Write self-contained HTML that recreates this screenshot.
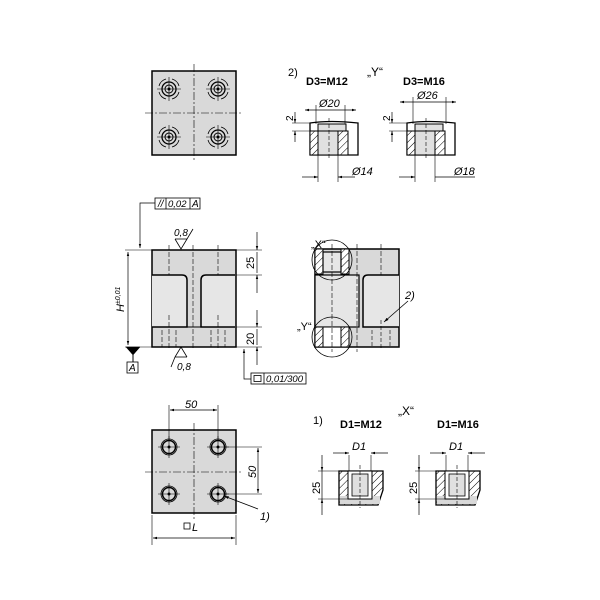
<!DOCTYPE html>
<html><head><style>html,body{margin:0;padding:0;background:#fff}svg{display:block}</style></head><body>
<svg width="600" height="600" viewBox="0 0 600 600" xmlns="http://www.w3.org/2000/svg" font-family="Liberation Sans, sans-serif">
<defs>
<marker id="a" viewBox="0 0 10 10" refX="10" refY="5" markerWidth="6" markerHeight="6" orient="auto-start-reverse"><path d="M0,2 L10,5 L0,8z" fill="#000"/></marker>
<pattern id="h" width="5" height="5" patternUnits="userSpaceOnUse" patternTransform="rotate(45)"><rect width="5" height="5" fill="#fff"/><line x1="0" y1="0" x2="0" y2="5" stroke="#000" stroke-width="1"/></pattern>
<g id="hole"><circle r="7" fill="none" stroke="#000" stroke-width="1.3"/><circle r="4" fill="none" stroke="#000" stroke-width="1"/><path d="M-10,-3 A10,10 0 0 1 -3,-10 M3,-10 A10,10 0 0 1 10,-3 M10,3 A10,10 0 0 1 3,10 M-3,10 A10,10 0 0 1 -10,3" fill="none" stroke="#000" stroke-width="0.8"/><line x1="-12" y1="0" x2="12" y2="0" stroke="#000" stroke-width="0.6"/><line x1="0" y1="-12" x2="0" y2="12" stroke="#000" stroke-width="0.6"/><circle r="1" fill="#000"/></g>
<g id="hole2"><circle r="8" fill="none" stroke="#000" stroke-width="0.8"/><circle r="6.5" fill="none" stroke="#000" stroke-width="1.5"/><line x1="-11" y1="0" x2="11" y2="0" stroke="#000" stroke-width="0.6"/><line x1="0" y1="-11" x2="0" y2="11" stroke="#000" stroke-width="0.6"/><circle r="1" fill="#000"/></g>
</defs>
<g stroke="#000" fill="none">
<!-- top-left square -->
<rect x="152" y="71" width="84" height="84" fill="#d9d9d9" stroke-width="1.5"/>
<line x1="194" y1="64" x2="194" y2="162" stroke-width="0.6" stroke-dasharray="8,2,2,2"/>
<line x1="145" y1="113" x2="243" y2="113" stroke-width="0.6" stroke-dasharray="8,2,2,2"/>
<use href="#hole" x="169" y="89"/><use href="#hole" x="218" y="89"/><use href="#hole" x="169" y="137"/><use href="#hole" x="218" y="137"/>

<!-- front view -->
<rect x="152" y="250" width="84" height="97" fill="#d9d9d9" stroke-width="1.5"/>
<path d="M152,275 H182 Q187,275 187,280 V327 H152" fill="#e6e6e6" stroke-width="1.5"/>
<path d="M235,275 H206 Q201,275 201,280 V327 H235" fill="#e6e6e6" stroke-width="1.5"/>
<line x1="152" y1="327" x2="235" y2="327" stroke-width="1"/>
<g stroke-width="0.6" stroke-dasharray="5,2">
<line x1="169" y1="245" x2="169" y2="275"/><line x1="218" y1="245" x2="218" y2="275"/>
<line x1="193" y1="245" x2="193" y2="350"/>
<line x1="162" y1="330" x2="162" y2="347"/><line x1="169" y1="315" x2="169" y2="350"/><line x1="176" y1="330" x2="176" y2="347"/>
<line x1="211" y1="330" x2="211" y2="347"/><line x1="218" y1="315" x2="218" y2="350"/><line x1="225" y1="330" x2="225" y2="347"/>
</g>
<line x1="125" y1="250" x2="152" y2="250" stroke-width="0.6"/>
<line x1="125" y1="347" x2="152" y2="347" stroke-width="0.6"/>
<line x1="128" y1="252" x2="128" y2="345" stroke-width="0.7" marker-start="url(#a)" marker-end="url(#a)"/>
<line x1="236" y1="250" x2="262" y2="250" stroke-width="0.6"/>
<line x1="236" y1="275" x2="262" y2="275" stroke-width="0.6"/>
<line x1="236" y1="327" x2="262" y2="327" stroke-width="0.6"/>
<line x1="236" y1="347" x2="262" y2="347" stroke-width="0.6"/>
<line x1="257" y1="232" x2="257" y2="250" stroke-width="0.7" marker-end="url(#a)"/>
<line x1="257" y1="293" x2="257" y2="275" stroke-width="0.7" marker-end="url(#a)"/>
<line x1="257" y1="252" x2="257" y2="273" stroke-width="0.7"/>
<line x1="257" y1="310" x2="257" y2="327" stroke-width="0.7" marker-end="url(#a)"/>
<line x1="257" y1="365" x2="257" y2="347" stroke-width="0.7" marker-end="url(#a)"/>
<line x1="257" y1="329" x2="257" y2="345" stroke-width="0.7"/>
<!-- tolerance top -->
<path d="M140,248 V203 H155" stroke-width="0.7" marker-start="url(#a)"/>
<rect x="155" y="198" width="45" height="11" fill="#fff" stroke-width="0.8"/>
<line x1="166" y1="198" x2="166" y2="209" stroke-width="0.8"/><line x1="190" y1="198" x2="190" y2="209" stroke-width="0.8"/>
<!-- surface symbols -->
<path d="M175,239 L181,249 L187,239 M187,239 L193,229" stroke-width="0.8"/>
<line x1="175" y1="239" x2="187" y2="239" stroke-width="0.8"/>
<path d="M175,357 L181,347 L187,357 M175,357 L171,367" stroke-width="0.8"/>
<line x1="175" y1="357" x2="187" y2="357" stroke-width="0.8"/>
<path d="M126,347 L140,347 L133,355 z" fill="#000" stroke-width="0.5"/>
<line x1="133" y1="355" x2="133" y2="362"/>
<rect x="127" y="362" width="11" height="11" fill="#fff" stroke-width="0.8"/>
<path d="M244,349 V379 H251" stroke-width="0.7" marker-start="url(#a)"/>
<rect x="251" y="373" width="55" height="11" fill="#fff" stroke-width="0.8"/>
<line x1="264" y1="373" x2="264" y2="384" stroke-width="0.8"/>
<rect x="254" y="375.5" width="7" height="6" stroke-width="0.8"/>

<!-- side view -->
<rect x="315" y="249" width="84" height="98" fill="#d9d9d9" stroke-width="1.5"/>
<path d="M399,275 H368 Q363,275 363,280 V327 H399" fill="#e6e6e6" stroke-width="1.5"/>
<rect x="315" y="275" width="44" height="52" fill="#e6e6e6" stroke-width="1.2"/>
<line x1="357" y1="244" x2="357" y2="352" stroke-width="0.6" stroke-dasharray="5,2"/>
<line x1="381" y1="244" x2="381" y2="275" stroke-width="0.6" stroke-dasharray="5,2"/>
<line x1="372" y1="330" x2="372" y2="347" stroke-width="0.6" stroke-dasharray="4,2"/><line x1="381" y1="320" x2="381" y2="350" stroke-width="0.6" stroke-dasharray="4,2"/><line x1="390" y1="330" x2="390" y2="347" stroke-width="0.6" stroke-dasharray="4,2"/>
<rect x="315" y="249" width="8" height="25" fill="url(#h)" stroke-width="1"/>
<rect x="341" y="249" width="8" height="25" fill="url(#h)" stroke-width="1"/>
<rect x="323" y="252" width="18" height="20" fill="#e6e6e6" stroke-width="1.2"/>
<rect x="315" y="327" width="8" height="20" fill="url(#h)" stroke-width="1"/>
<rect x="341" y="327" width="8" height="20" fill="url(#h)" stroke-width="1"/>
<rect x="323" y="327" width="18" height="20" fill="#fff" stroke-width="1"/>
<line x1="332" y1="244" x2="332" y2="352" stroke-width="0.6" stroke-dasharray="5,2"/>
<circle cx="332" cy="260" r="20" stroke-width="0.8"/>
<circle cx="332" cy="337" r="20" stroke-width="0.8"/>
<line x1="408" y1="301" x2="384" y2="322" stroke-width="0.8" marker-end="url(#a)"/>

<!-- bottom-left square -->
<rect x="152" y="430" width="84" height="83" fill="#d9d9d9" stroke-width="1.5"/>
<line x1="194" y1="423" x2="194" y2="520" stroke-width="0.6" stroke-dasharray="8,2,2,2"/>
<line x1="145" y1="472" x2="243" y2="472" stroke-width="0.6" stroke-dasharray="8,2,2,2"/>
<use href="#hole2" x="169" y="447"/><use href="#hole2" x="218" y="447"/><use href="#hole2" x="169" y="494"/><use href="#hole2" x="218" y="494"/>
<line x1="169" y1="405" x2="169" y2="440" stroke-width="0.6"/><line x1="218" y1="405" x2="218" y2="440" stroke-width="0.6"/>
<line x1="170" y1="410" x2="217" y2="410" stroke-width="0.7" marker-start="url(#a)" marker-end="url(#a)"/>
<line x1="225" y1="447" x2="262" y2="447" stroke-width="0.6"/><line x1="225" y1="494" x2="262" y2="494" stroke-width="0.6"/>
<line x1="258" y1="448" x2="258" y2="493" stroke-width="0.7" marker-start="url(#a)" marker-end="url(#a)"/>
<line x1="152" y1="515" x2="152" y2="545" stroke-width="0.6"/><line x1="236" y1="515" x2="236" y2="545" stroke-width="0.6"/>
<line x1="153" y1="538" x2="235" y2="538" stroke-width="0.7" marker-start="url(#a)" marker-end="url(#a)"/>
<line x1="258" y1="509" x2="224" y2="496" stroke-width="0.8" marker-end="url(#a)"/>
<rect x="184" y="523" width="6" height="6" stroke-width="0.8"/>

<!-- Y details -->
<g id="y1">
<path d="M310,123 Q330,120 358,123 V155 H310 Z" fill="#fff" stroke-width="1.3"/>
<rect x="310" y="131" width="8" height="24" fill="url(#h)" stroke-width="1"/>
<rect x="338" y="131" width="10" height="24" fill="url(#h)" stroke-width="1"/>
<rect x="318" y="124" width="28" height="7" fill="#e0e0e0" stroke-width="1"/>
<rect x="318" y="131" width="20" height="24" fill="#e0e0e0" stroke-width="1"/>
<line x1="329" y1="118" x2="329" y2="160" stroke-width="0.6" stroke-dasharray="4,2"/>
</g>
<line x1="316" y1="105" x2="316" y2="124" stroke-width="0.6"/><line x1="345" y1="105" x2="345" y2="124" stroke-width="0.6"/>
<line x1="305" y1="110" x2="356" y2="110" stroke-width="0.7" marker-start="url(#a)" marker-end="url(#a)"/>
<line x1="318" y1="155" x2="318" y2="182" stroke-width="0.6"/><line x1="338" y1="155" x2="338" y2="182" stroke-width="0.6"/>
<line x1="302" y1="177" x2="318" y2="177" stroke-width="0.7" marker-end="url(#a)"/><line x1="355" y1="177" x2="338" y2="177" stroke-width="0.7" marker-end="url(#a)"/>
<line x1="292" y1="123" x2="310" y2="123" stroke-width="0.6"/><line x1="292" y1="131" x2="310" y2="131" stroke-width="0.6"/>
<line x1="295" y1="112" x2="295" y2="123" stroke-width="0.7" marker-end="url(#a)"/><line x1="295" y1="142" x2="295" y2="131" stroke-width="0.7" marker-end="url(#a)"/>
<use href="#y1" x="97"/>
<line x1="413" y1="97" x2="413" y2="124" stroke-width="0.6"/><line x1="446" y1="97" x2="446" y2="124" stroke-width="0.6"/>
<line x1="400" y1="102" x2="456" y2="102" stroke-width="0.7" marker-start="url(#a)" marker-end="url(#a)"/>
<line x1="415" y1="155" x2="415" y2="182" stroke-width="0.6"/><line x1="435" y1="155" x2="435" y2="182" stroke-width="0.6"/>
<line x1="399" y1="177" x2="415" y2="177" stroke-width="0.7" marker-end="url(#a)"/><line x1="475" y1="177" x2="435" y2="177" stroke-width="0.7"/>
<line x1="389" y1="123" x2="407" y2="123" stroke-width="0.6"/><line x1="389" y1="131" x2="407" y2="131" stroke-width="0.6"/>
<line x1="392" y1="112" x2="392" y2="123" stroke-width="0.7" marker-end="url(#a)"/><line x1="392" y1="142" x2="392" y2="131" stroke-width="0.7" marker-end="url(#a)"/>

<!-- X details -->
<g id="x1">
<path d="M339,471 H383 V490 L378,505 H339 Z" fill="url(#h)" stroke-width="1.3"/>
<rect x="340" y="496" width="40" height="8" fill="#d9d9d9" stroke="none"/>
<rect x="348" y="471" width="24" height="28" fill="#fff" stroke-width="1"/>
<rect x="352" y="474" width="16" height="22" fill="#e0e0e0" stroke-width="0.8"/>
<line x1="360" y1="465" x2="360" y2="508" stroke-width="0.6" stroke-dasharray="4,2"/>
<line x1="349" y1="455" x2="349" y2="471" stroke-width="0.6"/><line x1="371" y1="455" x2="371" y2="471" stroke-width="0.6"/>
<line x1="333" y1="453" x2="349" y2="453" stroke-width="0.7" marker-end="url(#a)"/><line x1="388" y1="453" x2="371" y2="453" stroke-width="0.7" marker-end="url(#a)"/>
<line x1="318" y1="471" x2="339" y2="471" stroke-width="0.6"/><line x1="318" y1="499" x2="348" y2="499" stroke-width="0.6"/>
<line x1="322" y1="455" x2="322" y2="471" stroke-width="0.7" marker-end="url(#a)"/><line x1="322" y1="515" x2="322" y2="499" stroke-width="0.7" marker-end="url(#a)"/>
<line x1="322" y1="471" x2="322" y2="499" stroke-width="0.7"/>
</g>
<use href="#x1" x="97"/>
</g>
<g font-size="10" fill="#000">
<text x="158" y="207" font-style="italic">//</text><text x="168" y="207" font-style="italic" font-size="9.5">0,02</text><text x="192" y="207" font-style="italic">A</text>
<text x="174" y="236" font-style="italic">0,8</text>
<text x="177" y="370" font-style="italic">0,8</text>
<text x="129" y="371" font-style="italic">A</text>
<text x="266" y="382" font-style="italic" font-size="9.5">0,01/300</text>
<text transform="translate(124,312) rotate(-90)" font-style="italic" font-size="11">H<tspan font-size="7" dy="-4">±0,01</tspan></text>
<text transform="translate(254,269) rotate(-90)" font-size="11">25</text>
<text transform="translate(254,345) rotate(-90)" font-size="11">20</text>
<text x="311" y="248" font-size="11">„X“</text>
<text x="297" y="330" font-size="11">„Y“</text>
<text x="405" y="299" font-style="italic" font-size="11">2)</text>
<text x="185" y="408" font-style="italic" font-size="11">50</text>
<text transform="translate(256,478) rotate(-90)" font-style="italic" font-size="11">50</text>
<text x="192" y="531" font-style="italic" font-size="11">L</text>
<text x="260" y="520" font-style="italic" font-size="11">1)</text>
<text x="288" y="76" font-size="11">2)</text>
<text x="306" y="85" font-weight="bold" font-size="11">D3=M12</text>
<text x="367" y="76" font-size="12">„Y“</text>
<text x="403" y="85" font-weight="bold" font-size="11">D3=M16</text>
<text x="319" y="107" font-style="italic" font-size="11">Ø20</text>
<text x="417" y="99" font-style="italic" font-size="11">Ø26</text>
<text x="352" y="175" font-style="italic" font-size="11">Ø14</text>
<text x="454" y="175" font-style="italic" font-size="11">Ø18</text>
<text transform="translate(293,121) rotate(-90)" font-size="10">2</text>
<text transform="translate(390,121) rotate(-90)" font-size="10">2</text>
<text x="398" y="415" font-size="12">„X“</text>
<text x="313" y="424" font-size="11">1)</text>
<text x="340" y="428" font-weight="bold" font-size="11">D1=M12</text>
<text x="437" y="428" font-weight="bold" font-size="11">D1=M16</text>
<text x="352" y="450" font-style="italic" font-size="11">D1</text>
<text x="449" y="450" font-style="italic" font-size="11">D1</text>
<text transform="translate(320,494) rotate(-90)" font-size="11">25</text>
<text transform="translate(417,494) rotate(-90)" font-size="11">25</text>
</g>
</svg>
</body></html>
